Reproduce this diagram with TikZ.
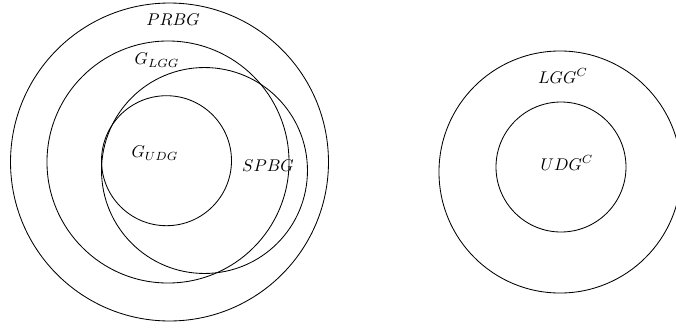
\documentclass[tikz,border=0pt]{standalone}
\begin{document}
\begin{tikzpicture}[x=0.59pt,y=-0.59pt,
  ring/.style={draw, circle, inner sep=0pt, outer sep=0pt, line width=0.5pt, minimum size=#1},
  lab/.style={inner sep=0pt}]
\useasboundingbox (0,0) rectangle (676,327);
\node[ring=187.6pt] (prbg) at (169.5,162) {};
\node[ring=142.8pt] (lgg) at (168,162) {};
\node[ring=121.5pt] (spbg) at (204.5,170.5) {};
\node[ring=76.7pt] (udg) at (166.5,160.7) {};
\node[ring=142.8pt] (lggc) at (560,172) {};
\node[ring=76.7pt] (udgc) at (561,167) {};
\node[lab] (tprbg) at (173,20) {$PRBG$};
\node[lab] (tlgg) at (157,60) {$G_{LGG}$};
\node[lab] (tudg) at (155,153) {$G_{UDG}$};
\node[lab] (tspbg) at (268,166) {$SPBG$};
\node[lab] (tlggc) at (563,76) {$LGG^C$};
\node[lab] (tudgc) at (567,163) {$UDG^C$};
\end{tikzpicture}
\end{document}
